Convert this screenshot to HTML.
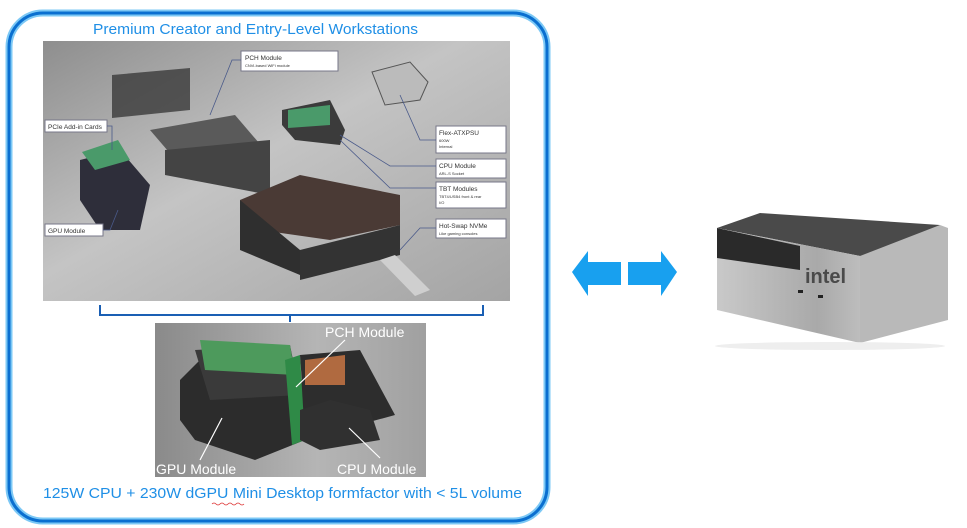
<!DOCTYPE html>
<html><head><meta charset="utf-8"><style>
html,body{margin:0;padding:0;background:#fff;width:967px;height:528px;overflow:hidden}
svg{display:block}
text{font-family:"Liberation Sans",sans-serif}
</style></head><body>
<svg width="967" height="528" viewBox="0 0 967 528" xmlns="http://www.w3.org/2000/svg">
<defs>
<linearGradient id="bg1" x1="0" y1="0" x2="1" y2="1">
<stop offset="0" stop-color="#8e8e8e"/><stop offset="0.45" stop-color="#c4c4c4"/><stop offset="1" stop-color="#a4a4a4"/></linearGradient>
<linearGradient id="bg2" x1="0" y1="0" x2="1" y2="0">
<stop offset="0" stop-color="#8a8a8a"/><stop offset="0.6" stop-color="#b5b5b5"/><stop offset="1" stop-color="#a0a0a0"/></linearGradient>
<linearGradient id="pcs" x1="0" y1="0" x2="1" y2="0">
<stop offset="0" stop-color="#c9c9c9"/><stop offset="0.7" stop-color="#a9a9a9"/><stop offset="1" stop-color="#bdbdbd"/></linearGradient>
</defs>
<rect x="9" y="13" width="538" height="508" rx="34" fill="none" stroke="#7cc8f5" stroke-width="7"/>
<rect x="9" y="13" width="538" height="508" rx="34" fill="none" stroke="#0a6fd0" stroke-width="3"/>
<text x="93" y="34" font-size="15" fill="#1f8fe6" textLength="325" lengthAdjust="spacingAndGlyphs">Premium Creator and Entry-Level Workstations</text>
<rect x="43" y="41" width="467" height="260" fill="url(#bg1)"/>
<polygon points="112,75 190,68 190,110 112,118" fill="#3a3a3a" opacity="0.8"/>
<polygon points="150,130 235,115 265,150 180,165" fill="#5a5a5a"/>
<polygon points="165,150 270,140 270,195 165,175" fill="#444"/>
<polygon points="80,160 120,150 150,185 140,230 100,230 80,200" fill="#2e2e3a"/>
<polygon points="82,152 118,140 130,160 95,170" fill="#4a9a6a"/>
<polygon points="282,110 330,100 345,130 340,145 295,140 282,125" fill="#3b3b3b"/>
<polygon points="288,110 330,105 330,125 288,128" fill="#4a9a6a"/>
<polygon points="372,72 410,62 428,82 420,100 385,105" fill="#bbb" stroke="#555"/>
<polygon points="240,200 300,175 400,195 400,225 330,240 260,230" fill="#4a3a35"/>
<polygon points="240,200 300,250 300,275 240,250" fill="#2f2f2f"/>
<polygon points="300,250 400,225 400,255 300,280" fill="#333"/>
<polygon points="380,260 395,255 430,290 415,296" fill="#cfcfcf"/>
<g font-size="6.5" fill="#333">
<rect x="241" y="51" width="97" height="20" fill="#fff" stroke="#778"/><text x="245" y="60">PCH Module</text><text x="245" y="67" font-size="4">CNVi-based WiFi module</text>
<rect x="45" y="120" width="62" height="12" fill="#fff" stroke="#778"/><text x="48" y="129">PCIe Add-in Cards</text>
<rect x="45" y="224" width="58" height="12" fill="#fff" stroke="#778"/><text x="48" y="233">GPU Module</text>
<rect x="436" y="126" width="70" height="27" fill="#fff" stroke="#778"/><text x="439" y="135">Flex-ATXPSU</text><text x="439" y="142" font-size="4">600W</text><text x="439" y="148" font-size="4">Internal</text>
<rect x="436" y="159" width="70" height="19" fill="#fff" stroke="#778"/><text x="439" y="168">CPU Module</text><text x="439" y="175" font-size="4">ARL-S Socket</text>
<rect x="436" y="182" width="70" height="26" fill="#fff" stroke="#778"/><text x="439" y="191">TBT Modules</text><text x="439" y="198" font-size="4">TBT4/USB4 front &amp; rear</text><text x="439" y="204" font-size="4">I/O</text>
<rect x="436" y="219" width="70" height="19" fill="#fff" stroke="#778"/><text x="439" y="228">Hot-Swap NVMe</text><text x="439" y="235" font-size="4">Like gaming consoles</text>
</g>
<g stroke="#4a5a8a" stroke-width="0.8" fill="none">
<polyline points="241,60 232,60 210,115"/><polyline points="107,126 112,126 112,150"/><polyline points="103,230 110,230 118,210"/>
<polyline points="436,140 420,140 400,95"/><polyline points="436,166 390,166 340,135"/><polyline points="436,188 390,188 340,140"/><polyline points="436,228 420,228 400,250"/>
</g>
<path d="M100,305 V315 H483 V305 M290,315 V322" fill="none" stroke="#1a5fb4" stroke-width="2"/>
<rect x="155" y="323" width="271" height="154" fill="url(#bg2)"/>
<polygon points="180,380 200,360 305,380 305,440 255,460 195,440 180,420" fill="#2c2c2c"/>
<polygon points="195,350 290,345 300,395 210,400" fill="#3a3a3a"/>
<polygon points="200,340 290,345 295,375 205,370" fill="#4d9a5c"/>
<polygon points="285,360 300,355 305,440 292,445" fill="#2f8a47"/>
<polygon points="300,355 360,350 395,415 340,430 305,425" fill="#2d2d2d"/>
<polygon points="305,360 345,355 345,385 305,385" fill="#b06a40"/>
<polygon points="300,410 330,400 370,410 380,440 320,450 300,440" fill="#303030"/>
<g font-size="14" fill="#fff">
<text x="325" y="337">PCH Module</text><text x="156" y="474">GPU Module</text><text x="337" y="474">CPU Module</text></g>
<g stroke="#fff" stroke-width="1.2"><line x1="345" y1="340" x2="296" y2="387"/><line x1="200" y1="460" x2="222" y2="418"/><line x1="380" y1="458" x2="349" y2="428"/></g>
<text x="43" y="498" font-size="15" fill="#1f8fe6" textLength="479" lengthAdjust="spacingAndGlyphs">125W  CPU +  230W dGPU  Mini Desktop formfactor   with &lt; 5L volume</text>
<path d="M212,504 q2,-2 4,0 t4,0 t4,0 t4,0 t4,0 t4,0 t4,0 t4,0" fill="none" stroke="#d33" stroke-width="0.8"/>
<polygon points="572,272 588,251 588,262 621,262 621,285 588,285 588,296" fill="#18a0ef"/>
<polygon points="677,272 661,251 661,262 628,262 628,285 661,285 661,296" fill="#18a0ef"/>
<polygon points="717,228 760,213 940,225 912,252 860,256" fill="#4a4a4a"/>
<polygon points="717,228 860,256 860,343 717,310" fill="url(#pcs)"/>
<polygon points="717,228 800,246 800,270 717,258" fill="#2a2a2a"/>
<polygon points="860,256 940,225 948,228 948,320 860,343" fill="#b9b9b9"/>
<text x="805" y="283" font-size="20" font-weight="bold" fill="#4a4a4a">intel</text>
<rect x="798" y="290" width="5" height="3" fill="#222"/><rect x="818" y="295" width="5" height="3" fill="#222"/>
<ellipse cx="830" cy="346" rx="115" ry="4" fill="#eee"/>
</svg>
</body></html>
